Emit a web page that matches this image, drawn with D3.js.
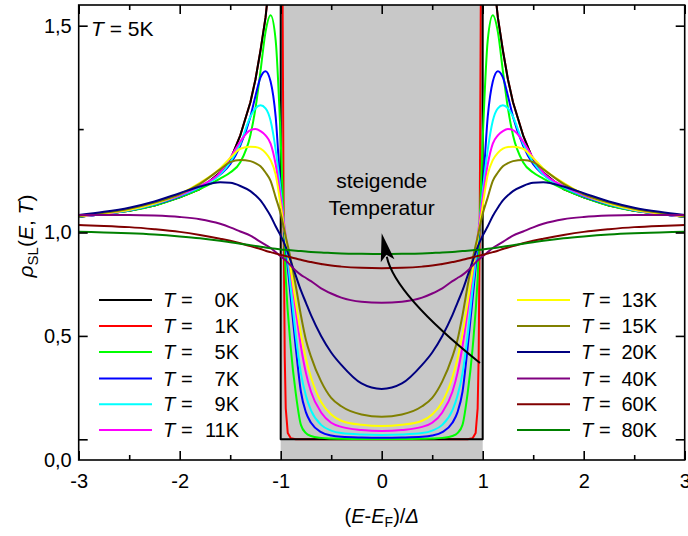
<!DOCTYPE html>
<html>
<head>
<meta charset="utf-8">
<script src="https://cdn.jsdelivr.net/npm/d3@7"></script>
<style>
  body { margin: 0; background: #fff; }
  text { font-family: Arial, "Liberation Sans", sans-serif; fill: #000; }
</style>
</head>
<body>
<div id="chart"></div>
<script>
// energy grid (E-EF)/Delta, E >= 0 half; curves are symmetric around 0
var energies = [0, 0.2, 0.4, 0.5, 0.6, 0.7, 0.75, 0.8, 0.85, 0.9, 0.95, 1.0, 1.05, 1.1, 1.15, 1.2, 1.25, 1.3, 1.4, 1.5, 1.6, 1.8, 2.0, 2.25, 2.5, 2.75, 3.0];

var rhoT5  = [0.002, 0.002, 0.003, 0.004, 0.007, 0.016, 0.03, 0.07, 0.22, 0.44, 0.78, 1.45, 1.93, 2.05, 1.97, 1.78, 1.60, 1.47, 1.34, 1.29, 1.26, 1.21, 1.17, 1.13, 1.105, 1.09, 1.076];
var rhoT7  = [0.008, 0.009, 0.012, 0.018, 0.035, 0.08, 0.13, 0.23, 0.44, 0.68, 0.93, 1.2, 1.56, 1.73, 1.78, 1.75, 1.66, 1.56, 1.42, 1.33, 1.28, 1.22, 1.175, 1.135, 1.107, 1.09, 1.077];
var rhoT9  = [0.021, 0.023, 0.03, 0.042, 0.07, 0.14, 0.21, 0.32, 0.5, 0.73, 0.96, 1.2, 1.4, 1.54, 1.6, 1.615, 1.6, 1.56, 1.43, 1.34, 1.28, 1.22, 1.177, 1.137, 1.108, 1.09, 1.078];
var rhoT11 = [0.04, 0.045, 0.06, 0.08, 0.13, 0.23, 0.32, 0.45, 0.62, 0.8, 0.98, 1.17, 1.33, 1.43, 1.47, 1.49, 1.50, 1.495, 1.44, 1.36, 1.29, 1.225, 1.18, 1.14, 1.11, 1.09, 1.078];
var rhoT13 = [0.064, 0.07, 0.09, 0.12, 0.18, 0.3, 0.39, 0.51, 0.66, 0.82, 0.97, 1.13, 1.28, 1.35, 1.385, 1.405, 1.413, 1.415, 1.405, 1.36, 1.31, 1.24, 1.185, 1.14, 1.11, 1.092, 1.078];
var rhoT15 = [0.109, 0.12, 0.16, 0.2, 0.28, 0.4, 0.48, 0.6, 0.74, 0.87, 0.98, 1.09, 1.17, 1.25, 1.29, 1.32, 1.335, 1.345, 1.351, 1.34, 1.305, 1.235, 1.185, 1.145, 1.115, 1.095, 1.08];
var rhoT20 = [0.243, 0.27, 0.36, 0.42, 0.5, 0.6, 0.66, 0.72, 0.79, 0.86, 0.93, 0.985, 1.03, 1.08, 1.12, 1.155, 1.18, 1.2, 1.225, 1.24, 1.243, 1.222, 1.19, 1.15, 1.12, 1.1, 1.085];
var rhoT40 = [0.66, 0.665, 0.685, 0.705, 0.73, 0.765, 0.78, 0.795, 0.815, 0.84, 0.865, 0.885, 0.905, 0.925, 0.94, 0.955, 0.97, 0.985, 1.005, 1.025, 1.042, 1.064, 1.075, 1.082, 1.085, 1.085, 1.085];
var rhoT60 = [0.827, 0.829, 0.835, 0.84, 0.848, 0.857, 0.862, 0.868, 0.874, 0.88, 0.886, 0.892, 0.898, 0.905, 0.912, 0.92, 0.927, 0.934, 0.948, 0.96, 0.97, 0.988, 1.003, 1.016, 1.026, 1.032, 1.036];
var rhoT80 = [0.896, 0.897, 0.899, 0.901, 0.903, 0.906, 0.908, 0.91, 0.912, 0.914, 0.916, 0.918, 0.921, 0.924, 0.927, 0.931, 0.935, 0.939, 0.946, 0.953, 0.96, 0.972, 0.981, 0.99, 0.996, 1.0, 1.004];

// T = 0K and 1K need their own grid (sharp gap edge)
var energiesT0 = [0, 1, 1, 1.02, 1.05, 1.08, 1.1, 1.137, 1.15, 1.2, 1.25, 1.3, 1.4, 1.5, 1.6, 1.8, 2.0, 2.25, 2.5, 2.75, 3.0];
var rhoT0      = [0, 0, 5, 4.0, 3.25, 2.6, 2.4, 2.1, 2.04, 1.88, 1.74, 1.63, 1.47, 1.35, 1.29, 1.21, 1.17, 1.13, 1.105, 1.09, 1.076];
var energiesT1 = [0, 0.85, 0.9, 0.93, 0.95, 0.96, 0.97, 0.98, 0.99, 1.0, 1.02, 1.05, 1.1, 1.137, 1.15, 1.2, 1.25, 1.3, 1.4, 1.5, 1.6, 1.8, 2.0, 2.25, 2.5, 2.75, 3.0];
var rhoT1      = [0, 0, 0.005, 0.03, 0.15, 0.4, 1.0, 2.0, 3.0, 3.8, 3.8, 3.2, 2.4, 2.1, 2.04, 1.88, 1.74, 1.63, 1.47, 1.35, 1.29, 1.21, 1.17, 1.13, 1.105, 1.09, 1.076];

var tempLabels = ["0K", "1K", "5K", "7K", "9K", "11K", "13K", "15K", "20K", "40K", "60K", "80K"];
var tempColors = ["#000000", "#ff0000", "#00ff00", "#0000ff", "#00ffff", "#ff00ff", "#ffff00", "#808000", "#000080", "#800080", "#800000", "#008000"];

var xTicks = [-3, -2, -1, 0, 1, 2, 3];
var xMinor = [-2.5, -1.5, -0.5, 0.5, 1.5, 2.5];
var yTicks = [0, 0.5, 1, 2];
var yMinor = [1.5];
var yLabelAt = [-0.1, 0.5, 1, 2];
var yLabels = ["0,0", "0,5", "1,0", "1,5"];

var width = 688, height = 536;
var plotL = 78.7, plotR = 684.7, plotT = 5, plotB = 460;

var svg = d3.select("#chart").append("svg")
    .attr("width", width)
    .attr("height", height);

var x = d3.scaleLinear().domain([-3, 3]).range([plotL, plotR]);
var y = d3.scaleLinear().domain([-0.1, 2.1]).range([plotB, plotT]);

// gap region
svg.append("rect")
    .attr("x", x(-1)).attr("y", plotT)
    .attr("width", x(1) - x(-1)).attr("height", plotB - plotT)
    .attr("fill", "#c8c8c8");

svg.append("clipPath").attr("id", "clip")
  .append("rect")
    .attr("x", plotL).attr("y", plotT)
    .attr("width", plotR - plotL).attr("height", plotB - plotT);

function mirror(es, rs) {
    var pts = [];
    for (var i = es.length - 1; i > 0; i--) pts.push([-es[i], rs[i]]);
    for (var j = 0; j < es.length; j++) pts.push([es[j], rs[j]]);
    return pts;
}

var series = [
    {pts: mirror(energiesT1, rhoT1), color: tempColors[1], sharp: true},
    {pts: mirror(energiesT0, rhoT0), color: tempColors[0], sharp: true},
    {pts: mirror(energies, rhoT5), color: tempColors[2]},
    {pts: mirror(energies, rhoT7), color: tempColors[3]},
    {pts: mirror(energies, rhoT9), color: tempColors[4]},
    {pts: mirror(energies, rhoT11), color: tempColors[5]},
    {pts: mirror(energies, rhoT13), color: tempColors[6]},
    {pts: mirror(energies, rhoT15), color: tempColors[7]},
    {pts: mirror(energies, rhoT20), color: tempColors[8]},
    {pts: mirror(energies, rhoT40), color: tempColors[9]},
    {pts: mirror(energies, rhoT60), color: tempColors[10]},
    {pts: mirror(energies, rhoT80), color: tempColors[11]}
];

var lineSmooth = d3.line().x(d => x(d[0])).y(d => y(d[1])).curve(d3.curveMonotoneX);
var lineSharp = d3.line().x(d => x(d[0])).y(d => y(d[1]));

svg.append("g")
    .attr("clip-path", "url(#clip)")
  .selectAll("path")
  .data(series)
  .join("path")
    .attr("d", d => d.sharp ? lineSharp(d.pts) : lineSmooth(d.pts))
    .attr("fill", "none")
    .attr("stroke", d => d.color)
    .attr("stroke-width", 2)
    .attr("stroke-linejoin", "round");

// axes: inward ticks on all four sides
function tickAxis(axis, vals, size, tx, ty) {
    svg.append("g")
        .attr("transform", "translate(" + tx + "," + ty + ")")
        .call(axis.tickValues(vals).tickSize(size).tickSizeOuter(0).tickFormat(""))
        .call(g => g.select(".domain").remove())
        .call(g => g.selectAll("line").attr("stroke-width", 1.6));
}
tickAxis(d3.axisBottom(x), xTicks, -9, 0, plotB);
tickAxis(d3.axisBottom(x), xMinor, -5, 0, plotB);
tickAxis(d3.axisTop(x), xTicks, -9, 0, plotT);
tickAxis(d3.axisTop(x), xMinor, -5, 0, plotT);
tickAxis(d3.axisLeft(y), yTicks, -9, plotL, 0);
tickAxis(d3.axisLeft(y), yMinor, -5, plotL, 0);
tickAxis(d3.axisRight(y), yTicks, -9, plotR, 0);
tickAxis(d3.axisRight(y), yMinor, -5, plotR, 0);

svg.append("rect")
    .attr("x", plotL).attr("y", plotT)
    .attr("width", plotR - plotL).attr("height", plotB - plotT)
    .attr("fill", "none").attr("stroke", "#000").attr("stroke-width", 1.6);

svg.append("g")
    .attr("transform", "translate(0," + plotB + ")")
    .call(d3.axisBottom(x).tickValues(xTicks).tickSize(0).tickPadding(14).tickFormat(d3.format("d")))
    .call(g => g.select(".domain").remove())
    .call(g => g.selectAll("text").style("font-size", "20px").attr("fill", "#000").text(d => d < 0 ? "-" + (-d) : d));

svg.append("g")
    .attr("transform", "translate(" + plotL + ",0)")
    .call(d3.axisLeft(y).tickValues(yLabelAt).tickSize(0).tickPadding(7).tickFormat((d, i) => yLabels[i]))
    .call(g => g.select(".domain").remove())
    .call(g => g.selectAll("text").style("font-size", "20px").attr("fill", "#000"));

// axis titles
var xt = svg.append("text")
    .attr("x", x(0)).attr("y", 523)
    .attr("text-anchor", "middle")
    .style("font-size", "20px");
xt.append("tspan").text("(");
xt.append("tspan").attr("font-style", "italic").text("E");
xt.append("tspan").text("-");
xt.append("tspan").attr("font-style", "italic").text("E");
xt.append("tspan").attr("font-size", "14px").attr("dy", 4).text("F");
xt.append("tspan").attr("dy", -4).text(")/");
xt.append("tspan").attr("font-style", "italic").text("Δ");

var yt = svg.append("text")
    .attr("transform", "translate(33," + 236 + ") rotate(-90)")
    .attr("text-anchor", "middle")
    .style("font-size", "21px");
yt.append("tspan").attr("font-style", "italic").text("ρ");
yt.append("tspan").attr("font-size", "15px").attr("dy", 5).text("SL");
yt.append("tspan").attr("dy", -5).text("(");
yt.append("tspan").attr("font-style", "italic").text("E");
yt.append("tspan").text(", ");
yt.append("tspan").attr("font-style", "italic").text("T");
yt.append("tspan").text(")");

var tt = svg.append("text").attr("x", 91).attr("y", 36).style("font-size", "21px");
tt.append("tspan").attr("font-style", "italic").text("T");
tt.append("tspan").text(" = 5K");

svg.append("text").attr("x", x(0)).attr("y", 188)
    .attr("text-anchor", "middle").style("font-size", "21px").text("steigende");
svg.append("text").attr("x", x(0)).attr("y", 215)
    .attr("text-anchor", "middle").style("font-size", "21px").text("Temperatur");

// arrow "steigende Temperatur"
var a0 = [x(0.973), y(0.369)], ac = [x(0.132), y(0.698)], a1 = [x(0), y(0.996)];
var dx = a1[0] - ac[0], dy = a1[1] - ac[1], len = Math.hypot(dx, dy);
var ux = dx / len, uy = dy / len;
var headLen = 28, headW = 7;
var base = [a1[0] - ux * headLen, a1[1] - uy * headLen];
svg.append("path")
    .attr("d", "M" + a0 + "Q" + ac + " " + [base[0] + ux * 4, base[1] + uy * 4])
    .attr("fill", "none").attr("stroke", "#000").attr("stroke-width", 2);
svg.append("path")
    .attr("d", "M" + a1 +
        "L" + [base[0] - uy * headW, base[1] + ux * headW] +
        "L" + [base[0] + ux * 6, base[1] + uy * 6] +
        "L" + [base[0] + uy * headW, base[1] - ux * headW] + "Z")
    .attr("fill", "#000");

// legend
var legRows = [300, 326, 352, 378.5, 404.3, 430];
var legend = svg.append("g");
tempLabels.forEach(function (lab, i) {
    var col = i < 6 ? 0 : 1;
    var ly = legRows[i % 6];
    var lx = col === 0 ? 99 : 517;
    var g = legend.append("g");
    g.append("line")
        .attr("x1", lx).attr("x2", lx + 53)
        .attr("y1", ly).attr("y2", ly)
        .attr("stroke", tempColors[i]).attr("stroke-width", 2);
    var tx = lx + 64;
    g.append("text").attr("x", tx).attr("y", ly + 7)
        .attr("font-style", "italic").style("font-size", "20px").text("T");
    g.append("text").attr("x", tx + 18).attr("y", ly + 7)
        .style("font-size", "20px").text("=");
    g.append("text").attr("x", tx + 76).attr("y", ly + 7)
        .attr("text-anchor", "end").style("font-size", "20px").text(lab);
});
</script>
</body>
</html>
